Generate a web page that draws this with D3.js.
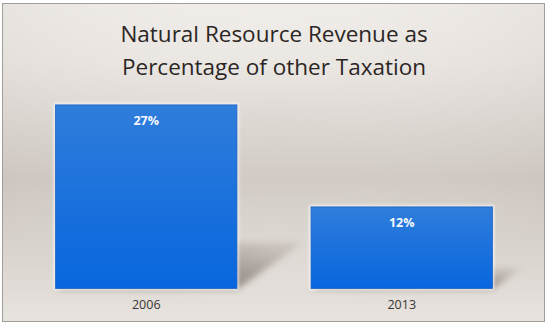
<!DOCTYPE html>
<html>
<head>
<meta charset="utf-8">
<script src="https://cdn.jsdelivr.net/npm/d3@7"></script>
<style>
  html, body { margin: 0; padding: 0; background: #ffffff; }
  svg { display: block; }
</style>
</head>
<body>
<svg id="chart" width="550" height="325"></svg>
<script>
const categories = ["2006", "2013"];
const values = [27, 12];
const valueLabels = ["27%", "12%"];
const titleLines = ["Natural Resource Revenue as", "Percentage of other Taxation"];

const svg = d3.select("#chart");
const defs = svg.append("defs");

// background gradient
const bg = defs.append("linearGradient").attr("id", "bg").attr("x1", 0).attr("y1", 0).attr("x2", 0).attr("y2", 1);
bg.append("stop").attr("offset", "0%").attr("stop-color", "#f3f0ed");
bg.append("stop").attr("offset", "18%").attr("stop-color", "#ebe7e3");
bg.append("stop").attr("offset", "55%").attr("stop-color", "#d0c9c3");
bg.append("stop").attr("offset", "82%").attr("stop-color", "#e4dfda");
bg.append("stop").attr("offset", "100%").attr("stop-color", "#f2efeb");

const bgr = defs.append("radialGradient").attr("id", "bgr").attr("cx", "50%").attr("cy", "35%").attr("r", "60%");
bgr.append("stop").attr("offset", "0%").attr("stop-color", "#ffffff").attr("stop-opacity", 0.0);
bgr.append("stop").attr("offset", "100%").attr("stop-color", "#b8afa8").attr("stop-opacity", 0.18);

const barG = defs.append("linearGradient").attr("id", "barG").attr("x1", 0).attr("y1", 0).attr("x2", 0).attr("y2", 1);
barG.append("stop").attr("offset", "0%").attr("stop-color", "#2f7ddb");
barG.append("stop").attr("offset", "100%").attr("stop-color", "#0866de");

const shG = defs.append("linearGradient").attr("id", "shG").attr("x1", 0).attr("y1", 1).attr("x2", 1).attr("y2", 0);
shG.append("stop").attr("offset", "0%").attr("stop-color", "#5f544d").attr("stop-opacity", 1);
shG.append("stop").attr("offset", "55%").attr("stop-color", "#7a6f68").attr("stop-opacity", 0.75);
shG.append("stop").attr("offset", "100%").attr("stop-color", "#9b918a").attr("stop-opacity", 0.25);

const blur = defs.append("filter").attr("id", "blur").attr("x", "-30%").attr("y", "-30%").attr("width", "160%").attr("height", "160%");
blur.append("feGaussianBlur").attr("stdDeviation", 3);

const glow = defs.append("filter").attr("id", "glow").attr("x", "-10%").attr("y", "-10%").attr("width", "120%").attr("height", "120%");
glow.append("feGaussianBlur").attr("stdDeviation", 1.5);

// frame
svg.append("rect").attr("x", 2.5).attr("y", 3.5).attr("width", 542).attr("height", 318)
  .attr("fill", "url(#bg)");
svg.append("rect").attr("x", 2.5).attr("y", 3.5).attr("width", 542).attr("height", 318)
  .attr("fill", "url(#bgr)").attr("stroke", "#a39d98").attr("stroke-width", 1);

// title
svg.append("text")
  .attr("x", 274).attr("text-anchor", "middle")
  .attr("font-family", "'Open Sans', sans-serif").attr("font-size", 22.5)
  .attr("fill", "#2b2624")
  .selectAll("tspan").data(titleLines).join("tspan")
  .attr("x", 274).attr("y", (d, i) => 42 + i * 33).text(d => d);

// scales
const x = d3.scaleBand().domain(categories).range([18.5, 529.5]).paddingInner(0.29).paddingOuter(0.145);
const y = d3.scaleLinear().domain([0, 30]).range([288.5, 84.5]);

const data = categories.map((c, i) => ({ c, v: values[i], label: valueLabels[i] }));

// shadows (perspective, falling back-right)
svg.append("g").selectAll("path").data(data).join("path")
  .attr("d", d => {
    const x0 = x(d.c), x1 = x(d.c) + x.bandwidth(), b = y(0), h = y(0) - y(d.v);
    const dx = 0.36 * h, dy = 0.25 * h;
    return `M${x0},${b} L${x1},${b + 1} L${x1 + dx},${b - dy} L${x0 + dx},${b - dy} Z`;
  })
  .attr("fill", "url(#shG)").attr("opacity", 0.8).attr("filter", "url(#blur)");

// bar glow
svg.append("g").selectAll("rect").data(data).join("rect")
  .attr("x", d => x(d.c) - 1.5).attr("y", d => y(d.v) - 1.5)
  .attr("width", x.bandwidth() + 3).attr("height", d => y(0) - y(d.v) + 3)
  .attr("fill", "#ffffff").attr("opacity", 0.8).attr("filter", "url(#glow)");

// bars
svg.append("g").selectAll("rect").data(data).join("rect")
  .attr("x", d => x(d.c)).attr("y", d => y(d.v))
  .attr("width", x.bandwidth()).attr("height", d => y(0) - y(d.v))
  .attr("fill", "url(#barG)").attr("stroke", "#1d62c4").attr("stroke-width", 0.8);

// value labels
svg.append("g").selectAll("text").data(data).join("text")
  .attr("x", d => x(d.c) + x.bandwidth() / 2).attr("y", d => y(d.v) + 20.5)
  .attr("text-anchor", "middle")
  .attr("font-family", "'Open Sans', sans-serif").attr("font-weight", "bold").attr("font-size", 12.5)
  .attr("fill", "#f4f8ff").text(d => d.label);

// x axis labels
const xAxis = d3.axisBottom(x).tickSize(0).tickPadding(12);
const ax = svg.append("g").attr("transform", `translate(0,${y(0)})`).call(xAxis);
ax.select(".domain").remove();
ax.selectAll("text").attr("font-family", "'Open Sans', sans-serif").attr("font-size", 12.5).attr("fill", "#3a3633");
</script>
</body>
</html>
